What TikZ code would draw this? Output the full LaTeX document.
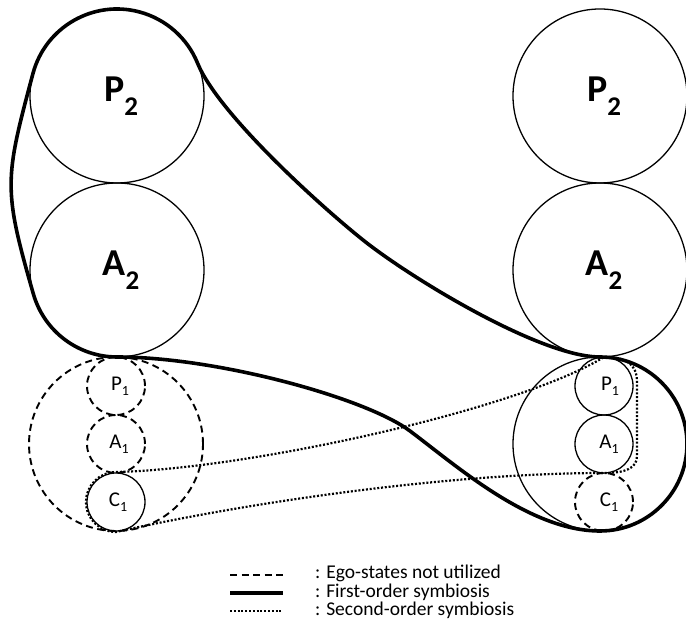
\documentclass[tikz,border=0pt]{standalone}
\usepackage{fontspec}
\setmainfont{Carlito}
\usetikzlibrary{calc}
% ego-state label with a lowered index
\newcommand\egobig[2]{#1\raisebox{-0.36em}{\fontsize{27}{27}\selectfont #2}}
\newcommand\egosmall[2]{#1\raisebox{-0.22em}{\fontsize{14}{14}\selectfont #2}}
\begin{document}
\begin{tikzpicture}[x=1pt,y=1pt,
  ego/.style={circle, draw, line width=1.3pt, inner sep=0pt, outer sep=0pt},
  big/.style={ego, minimum size=174pt},
  small/.style={ego, minimum size=58pt},
  unused/.style={dash pattern=on 7pt off 4.5pt, line width=1.9pt},
  first/.style={line width=3.6pt, line join=round, line cap=round},
  second/.style={line width=2.2pt, dash pattern=on 2pt off 1.8pt},
  biglab/.style={font=\fontsize{38}{38}\selectfont\bfseries, inner sep=0pt},
  smalllab/.style={font=\fontsize{21}{21}\selectfont, inner sep=0pt},
  legtext/.style={font=\fontsize{19.5}{21}\selectfont, anchor=base west,
    inner sep=0pt, text height=12pt, text depth=3.5pt}]

\useasboundingbox (0,0) rectangle (686,634);

% left person
\node[big] (lP2) at (117,538) {};
\node[big] (lA2) at (117,364) {};
\node[big, unused] (lL) at (116,190) {};
\node[small, unused] (lP1) at (116,248) {};
\node[small, unused] (lA1) at (116,190) {};
\node[small] (lC1) at (116,132) {};

% right person
\node[big] (rP2) at (600,538) {};
\node[big] (rA2) at (600,364) {};
\node[big] (rL) at (600,190) {};
\node[small] (rP1) at (604,248) {};
\node[small] (rA1) at (604,190) {};
\node[small, unused] (rC1) at (604,132) {};

% labels
\node[biglab] (lP2t) at ($(lP2.center)+(4,0)$) {\egobig{P}{2}};
\node[biglab] (lA2t) at ($(lA2.center)+(4,0)$) {\egobig{A}{2}};
\node[biglab] (rP2t) at ($(rP2.center)+(4,0)$) {\egobig{P}{2}};
\node[biglab] (rA2t) at ($(rA2.center)+(4,0)$) {\egobig{A}{2}};
\node[smalllab] (lP1t) at ($(lP1.center)+(4,0)$) {\egosmall{P}{1}};
\node[smalllab] (lA1t) at ($(lA1.center)+(3,0)$) {\egosmall{A}{1}};
\node[smalllab] (lC1t) at ($(lC1.center)+(2,0)$) {\egosmall{C}{1}};
\node[smalllab] (rP1t) at ($(rP1.center)+(6,0)$) {\egosmall{P}{1}};
\node[smalllab] (rA1t) at ($(rA1.center)+(5,0)$) {\egosmall{A}{1}};
\node[smalllab] (rC1t) at ($(rC1.center)+(5,0)$) {\egosmall{C}{1}};

% first-order symbiosis
\draw[first] (lP2.165) arc[start angle=165, end angle=22, radius=87]
  .. controls (218,521) and (318,430) .. (363,394)
  .. controls (410,356.5) and (540,277) .. (rA2.south)
  arc[start angle=90, end angle=-90, radius=87]
  .. controls (530,103) and (458,167) .. (410,203)
  .. controls (366,236) and (217,277) .. (lA2.south)
  arc[start angle=-90, end angle=-164, radius=87]
  .. controls (3,445.7) and (4.5,454.2) .. (lP2.165);

% second-order symbiosis
\coordinate (cT) at ($(lC1.center)+(0,30)$);
\coordinate (cB) at ($(lC1.center)+(0,-30)$);
\draw[second] (cT) .. controls (250,165) and (520,225) .. (rP1.north)
  .. controls (626,277) and (637,270) .. (637,252)
  -- (637,178) .. controls (637,166) and (626,161) .. (rA1.south)
  .. controls (450,161) and (250,132) .. (cB)
  arc[start angle=-90, end angle=-270, radius=30];

% legend
\coordinate (d1) at (230,59); \coordinate (d2) at (283,59);
\coordinate (f1) at (230,41); \coordinate (f2) at (283,41);
\coordinate (s1) at (230,23); \coordinate (s2) at (283,23);
\draw[unused] (d1) -- (d2);
\draw[first, line width=4.2pt, line cap=butt] (f1) -- (f2);
\draw[second] (s1) -- (s2);
\node[legtext] (t1) at (315,55) {: Ego-states not utilized};
\node[legtext] (t2) at (315,36.5) {: First-order symbiosis};
\node[legtext] (t3) at (315,18) {: Second-order symbiosis};
\end{tikzpicture}
\end{document}
